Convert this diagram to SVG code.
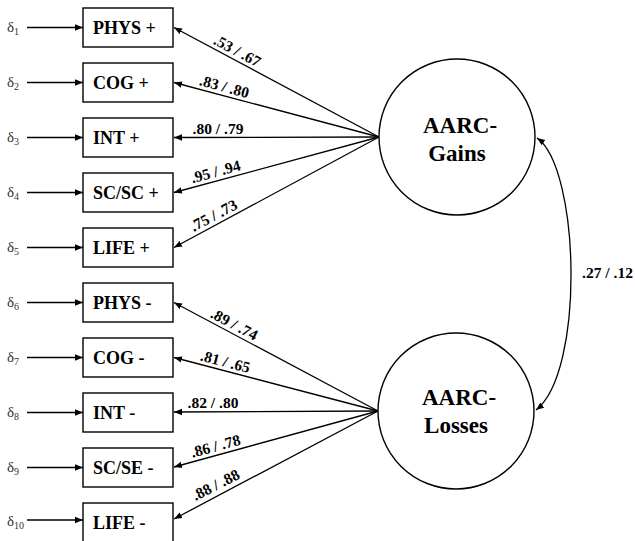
<svg xmlns="http://www.w3.org/2000/svg" width="635" height="541" viewBox="0 0 635 541">
<defs>
<marker id="ah" viewBox="0 0 10 10" refX="10" refY="5" markerWidth="8" markerHeight="8" markerUnits="userSpaceOnUse" orient="auto-start-reverse">
<path d="M0,1 L10,5 L0,9 z" fill="#000"/>
</marker>
<style>
.box{fill:#fff;stroke:#000;stroke-width:1.4}
.lat{fill:#fff;stroke:#000;stroke-width:1.4}
text{font-family:'Liberation Serif','DejaVu Serif',serif}
.bt{font-weight:bold;font-size:18px;fill:#000}
.lt{font-weight:bold;font-size:23px;fill:#000;text-anchor:middle}
.d{font-size:15px;fill:#333}
.ds{font-size:10px}
.w{font-weight:bold;font-size:15.5px;fill:#000;text-anchor:middle}
.c{stroke:#000;stroke-width:1.3;fill:none;marker-end:url(#ah)}
.cc{stroke:#000;stroke-width:1.3;fill:none;marker-end:url(#ah);marker-start:url(#ah)}
</style>
</defs>
<rect width="635" height="541" fill="#fff"/>

<g id="connectors">
<line class="c" x1="27" y1="27.5" x2="83" y2="27.5"/>
<line class="c" x1="27" y1="82.5" x2="83" y2="82.5"/>
<line class="c" x1="27" y1="137.5" x2="83" y2="137.5"/>
<line class="c" x1="27" y1="192.5" x2="83" y2="192.5"/>
<line class="c" x1="27" y1="247.5" x2="83" y2="247.5"/>
<line class="c" x1="27" y1="302.5" x2="83" y2="302.5"/>
<line class="c" x1="27" y1="357.5" x2="83" y2="357.5"/>
<line class="c" x1="27" y1="412.5" x2="83" y2="412.5"/>
<line class="c" x1="27" y1="467.5" x2="83" y2="467.5"/>
<line class="c" x1="27" y1="520" x2="83" y2="520"/>

<line class="c" x1="379" y1="137" x2="174" y2="27.5"/>
<line class="c" x1="379" y1="137" x2="174" y2="82.5"/>
<line class="c" x1="379" y1="137" x2="174" y2="137.5"/>
<line class="c" x1="379" y1="137" x2="174" y2="192.5"/>
<line class="c" x1="379" y1="137" x2="174" y2="247.5"/>

<line class="c" x1="378" y1="411" x2="174" y2="302.5"/>
<line class="c" x1="378" y1="411" x2="174" y2="357.5"/>
<line class="c" x1="378" y1="411" x2="174" y2="412"/>
<line class="c" x1="378" y1="411" x2="174" y2="467"/>
<line class="c" x1="378" y1="411" x2="174" y2="519"/>

<path class="cc" d="M537,138 C580,168 585,372 536,410"/>

<text class="w" transform="translate(233,59) rotate(28.1)" x="0" y="-4">.53 / .67</text>
<text class="w" transform="translate(222,95.5) rotate(14.9)" x="0" y="-4">.83 / .80</text>
<text class="w" transform="translate(218,137.5)" x="0" y="-4">.80 / .79</text>
<text class="w" transform="translate(218,180.5) rotate(-15)" x="0" y="-4">.95 / .94</text>
<text class="w" transform="translate(218,223.5) rotate(-28)" x="0" y="-4">.75 / .73</text>

<text class="w" transform="translate(230,332.5) rotate(28)" x="0" y="-4">.89 / .74</text>
<text class="w" transform="translate(223,370.5) rotate(14.7)" x="0" y="-4">.81 / .65</text>
<text class="w" transform="translate(213,412)" x="0" y="-4">.82 / .80</text>
<text class="w" transform="translate(218,455) rotate(-15.3)" x="0" y="-4">.86 / .78</text>
<text class="w" transform="translate(220,493) rotate(-27)" x="0" y="-4">.88 / .88</text>

<text class="w" x="607.5" y="278">.27 / .12</text>
</g>

<g id="d1"><text class="d" x="7" y="32">δ<tspan class="ds" dy="3">1</tspan></text></g>
<g id="d2"><text class="d" x="7" y="87">δ<tspan class="ds" dy="3">2</tspan></text></g>
<g id="d3"><text class="d" x="7" y="142">δ<tspan class="ds" dy="3">3</tspan></text></g>
<g id="d4"><text class="d" x="7" y="197">δ<tspan class="ds" dy="3">4</tspan></text></g>
<g id="d5"><text class="d" x="7" y="252">δ<tspan class="ds" dy="3">5</tspan></text></g>
<g id="d6"><text class="d" x="7" y="307">δ<tspan class="ds" dy="3">6</tspan></text></g>
<g id="d7"><text class="d" x="7" y="362">δ<tspan class="ds" dy="3">7</tspan></text></g>
<g id="d8"><text class="d" x="7" y="417">δ<tspan class="ds" dy="3">8</tspan></text></g>
<g id="d9"><text class="d" x="7" y="472">δ<tspan class="ds" dy="3">9</tspan></text></g>
<g id="d10"><text class="d" x="7" y="526">δ<tspan class="ds" dy="3">10</tspan></text></g>

<g id="phys-plus"><rect class="box" x="83" y="8" width="90" height="39"/><text class="bt" x="93" y="34">PHYS +</text></g>
<g id="cog-plus"><rect class="box" x="83" y="63" width="90" height="39"/><text class="bt" x="93" y="89">COG +</text></g>
<g id="int-plus"><rect class="box" x="83" y="118" width="90" height="39"/><text class="bt" x="93" y="144">INT +</text></g>
<g id="scsc-plus"><rect class="box" x="83" y="173" width="90" height="39"/><text class="bt" x="93" y="199">SC/SC +</text></g>
<g id="life-plus"><rect class="box" x="83" y="228" width="90" height="39"/><text class="bt" x="93" y="254">LIFE +</text></g>

<g id="phys-minus"><rect class="box" x="83" y="283" width="90" height="39"/><text class="bt" x="93" y="309">PHYS -</text></g>
<g id="cog-minus"><rect class="box" x="83" y="338" width="90" height="39"/><text class="bt" x="93" y="364">COG -</text></g>
<g id="int-minus"><rect class="box" x="83" y="393" width="90" height="39"/><text class="bt" x="93" y="419">INT -</text></g>
<g id="scse-minus"><rect class="box" x="83" y="448" width="90" height="39"/><text class="bt" x="93" y="474">SC/SE -</text></g>
<g id="life-minus"><rect class="box" x="83" y="503" width="90" height="40"/><text class="bt" x="93" y="529">LIFE -</text></g>

<g id="aarc-gains"><circle class="lat" cx="457" cy="137" r="78"/><text class="lt" x="460" y="133">AARC-</text><text class="lt" x="457" y="161">Gains</text></g>
<g id="aarc-losses"><circle class="lat" cx="456" cy="411" r="78"/><text class="lt" x="459" y="405">AARC-</text><text class="lt" x="456" y="433">Losses</text></g>
</svg>
